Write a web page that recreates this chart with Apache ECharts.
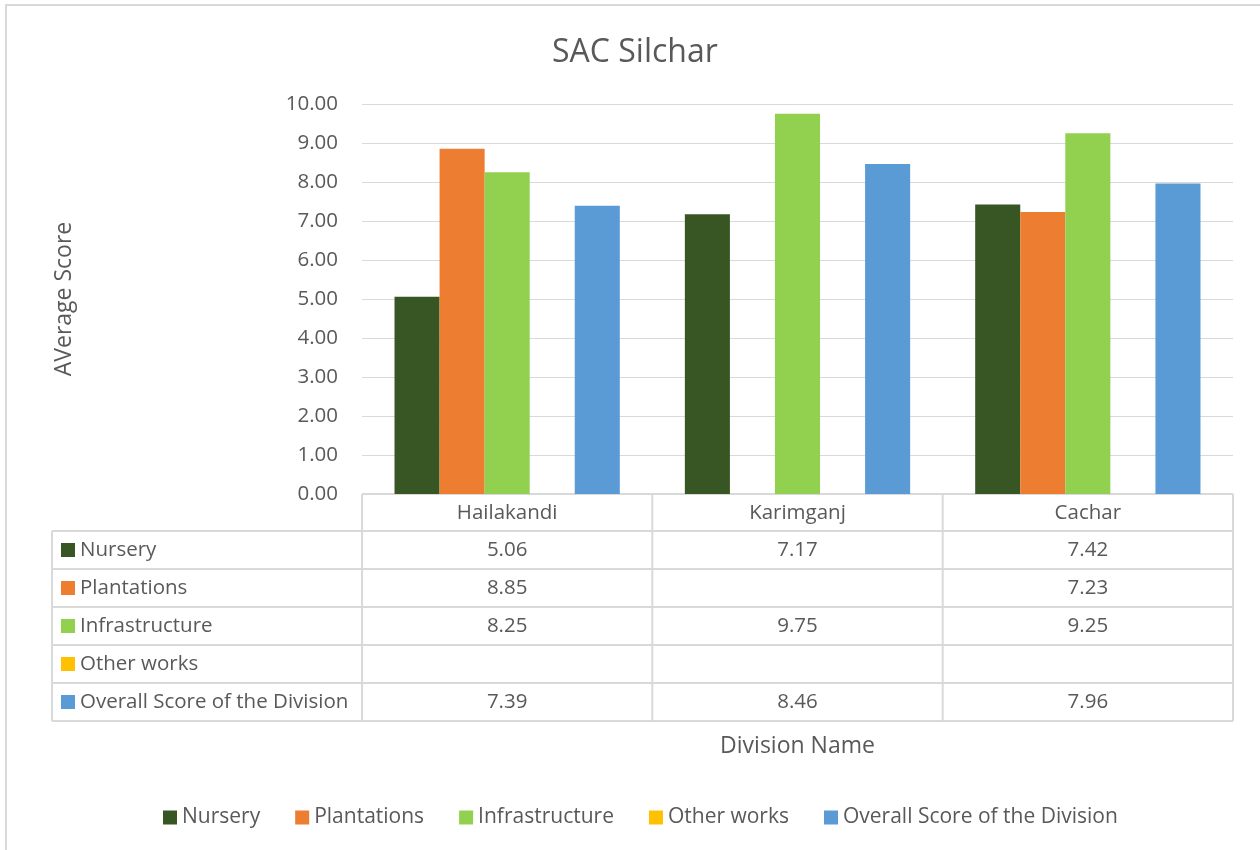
<!DOCTYPE html>
<html><head><meta charset="utf-8">
<script src="https://cdn.jsdelivr.net/npm/echarts@6/dist/echarts.min.js"></script>
<style>html,body{margin:0;padding:0;background:#fff}#c{width:1260px;height:850px}</style>
</head><body><div id="c"></div>
<script>
const categories = ['Hailakandi', 'Karimganj', 'Cachar'];
const seriesNames = ['Nursery', 'Plantations', 'Infrastructure', 'Other works', 'Overall Score of the Division'];
const nursery = [5.06, 7.17, 7.42];
const plantations = [8.85, null, 7.23];
const infrastructure = [8.25, 9.75, 9.25];
const otherWorks = [null, null, null];
const overall = [7.39, 8.46, 7.96];
const seriesValues = [nursery, plantations, infrastructure, otherWorks, overall];
const colors = ['#375623', '#ED7D31', '#92D050', '#FFC000', '#5B9BD5'];

const FONT = 'Open Sans';
const TXT = '#595959';
const LINE = '#d9d9d9';
const gridL = 362, gridR = 1233, gridT = 104, gridB = 494;
const tableLeft = 52, rowH = 38, headerH = 37;
const TABLE_FS = 20.5;

const chart = echarts.init(document.getElementById('c'));

const series = seriesNames.map((n, i) => ({
  name: n, type: 'bar', data: seriesValues[i],
  itemStyle: { color: colors[i] },
  barGap: '0%', barCategoryGap: '22.4%'
}));

const g = [];
g.push({ type: 'rect', shape: { x: 6, y: 5, width: 1300, height: 900 }, style: { fill: null, stroke: LINE, lineWidth: 2 }, silent: true });
const colW = (gridR - gridL) / categories.length;
const rowTop = gridB + headerH;
const tableBottom = rowTop + rowH * seriesNames.length;
g.push({ type: 'line', shape: { x1: gridL, y1: gridB, x2: gridR, y2: gridB }, style: { stroke: LINE, lineWidth: 2 } });
for (let r = 0; r <= seriesNames.length; r++) {
  const y = rowTop + r * rowH;
  g.push({ type: 'line', shape: { x1: tableLeft, y1: y, x2: gridR, y2: y }, style: { stroke: LINE, lineWidth: 2 } });
}
g.push({ type: 'line', shape: { x1: tableLeft, y1: rowTop, x2: tableLeft, y2: tableBottom }, style: { stroke: LINE, lineWidth: 2 } });
for (let c = 0; c <= categories.length; c++) {
  const x = gridL + c * colW;
  g.push({ type: 'line', shape: { x1: x, y1: gridB, x2: x, y2: tableBottom }, style: { stroke: LINE, lineWidth: 2 } });
}
const tfont = TABLE_FS + 'px "' + FONT + '"';
seriesNames.forEach((n, r) => {
  const cy = rowTop + r * rowH + rowH / 2;
  g.push({ type: 'rect', shape: { x: 61, y: cy - 7, width: 14, height: 14 }, style: { fill: colors[r] } });
  g.push({ type: 'text', x: 80, y: cy, style: { text: n, fill: TXT, font: tfont, textAlign: 'left', textVerticalAlign: 'middle' } });
  seriesValues[r].forEach((v, c) => {
    g.push({ type: 'text', x: gridL + c * colW + colW / 2, y: cy, style: { text: v == null ? '' : v.toFixed(2), fill: TXT, font: tfont, textAlign: 'center', textVerticalAlign: 'middle' } });
  });
});

chart.setOption({
  animation: false,
  textStyle: { fontFamily: FONT },
  title: { text: 'SAC Silchar', left: 547, top: 32, textStyle: { fontFamily: FONT, fontSize: 32, fontWeight: 'normal', color: TXT } },
  legend: {
    bottom: 17, left: 158, itemWidth: 14, itemHeight: 14, itemGap: 35, icon: 'rect',
    textStyle: { fontFamily: FONT, fontSize: 21, color: TXT },
    data: seriesNames
  },
  grid: { left: gridL, right: 1260 - gridR, top: gridT, bottom: 850 - gridB, containLabel: false },
  xAxis: {
    type: 'category', data: categories,
    axisLine: { show: false }, axisTick: { show: false },
    axisLabel: { fontFamily: FONT, fontSize: 20.5, color: TXT, margin: 9 },
    name: 'Division Name', nameLocation: 'middle', nameGap: 241,
    nameTextStyle: { fontFamily: FONT, fontSize: 23, color: TXT }
  },
  yAxis: {
    type: 'value', min: 0, max: 10, interval: 1,
    axisLine: { show: false }, axisTick: { show: false },
    axisLabel: { fontFamily: FONT, fontSize: 20.5, color: TXT, margin: 24, formatter: v => v.toFixed(2) },
    splitLine: { lineStyle: { color: LINE, width: 1 } },
    name: 'AVerage Score', nameLocation: 'middle', nameGap: 286, nameRotate: 90,
    nameTextStyle: { fontFamily: FONT, fontSize: 23, color: TXT }
  },
  series: series,
  graphic: g
});
</script></body></html>
